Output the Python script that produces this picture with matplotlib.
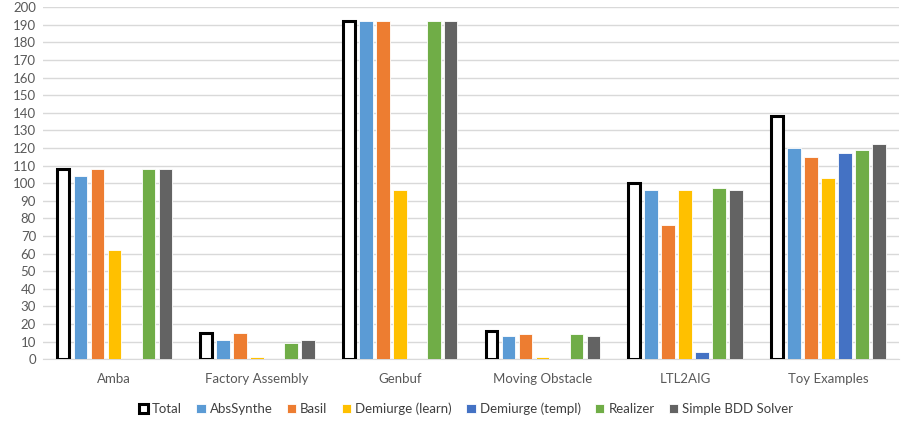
import matplotlib.pyplot as plt
import numpy as np

# Benchmark categories and solved counts per tool
categories = ['Amba', 'Factory Assembly', 'Genbuf', 'Moving Obstacle', 'LTL2AIG', 'Toy Examples']
series_names = ['Total', 'AbsSynthe', 'Basil', 'Demiurge (learn)', 'Demiurge (templ)',
                'Realizer', 'Simple BDD Solver']
total = [108, 15, 192, 16, 100, 138]
abssynthe = [104, 11, 192, 13, 96, 120]
basil = [108, 15, 192, 14, 76, 115]
demiurge_learn = [62, 1, 96, 1, 96, 103]
demiurge_templ = [0, 0, 0, 0, 4, 117]
realizer = [108, 9, 192, 14, 97, 119]
bdd_solver = [108, 11, 192, 13, 96, 122]

series = [total, abssynthe, basil, demiurge_learn, demiurge_templ, realizer, bdd_solver]
colors = ['white', '#5B9BD5', '#ED7D31', '#FFC000', '#4472C4', '#70AD47', '#636363']

plt.rcParams['font.family'] = ['Lato', 'DejaVu Sans']

fig = plt.figure(figsize=(9.06, 4.21), dpi=100)
ax = fig.add_axes([0.0475, 0.147, 0.945, 0.836])

x = np.arange(len(categories))
slot = 0.119
width = 0.095
for i, (name, vals, col) in enumerate(zip(series_names, series, colors)):
    pos = x + (i - 3) * slot
    if i == 0:
        ax.bar(pos, vals, width * 0.88, color='white', edgecolor='black', linewidth=2.2,
               label=name, zorder=3)
    else:
        ax.bar(pos, vals, width, color=col, edgecolor='white', linewidth=0.6,
               label=name, zorder=3)

ax.set_xlim(-0.5, len(categories) - 0.5)
ax.set_ylim(0, 200)
ax.set_yticks(range(0, 201, 10))
ax.set_xticks(x)
ax.set_xticklabels(categories)
ax.tick_params(length=0, labelsize=9.5, colors='#595959')
ax.tick_params(axis='x', pad=10)
ax.tick_params(axis='y', pad=5)
ax.yaxis.grid(True, color='#d9d9d9', linewidth=1)
ax.set_axisbelow(True)
for s in ['top', 'right', 'left']:
    ax.spines[s].set_visible(False)
ax.spines['bottom'].set_color('#d9d9d9')

ax.legend(loc='upper center', bbox_to_anchor=(0.494, -0.09), ncol=7, frameon=False,
          fontsize=9.5, handlelength=0.7, handleheight=0.7, handletextpad=0.3,
          columnspacing=1.1, labelcolor='#404040')

fig.savefig('out.png', dpi=100)
